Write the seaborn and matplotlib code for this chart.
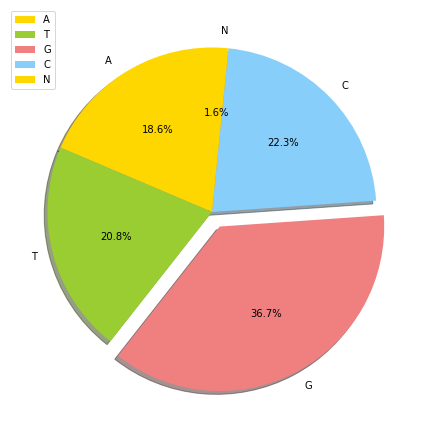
import matplotlib
matplotlib.use("Agg")
import matplotlib.pyplot as plt
import seaborn as sns

labels = ["A", "T", "G", "C", "N"]
values = [18.6, 20.8, 36.7, 22.3, 1.6]
colors = ["gold", "yellowgreen", "lightcoral", "lightskyblue", "gold"]
explode = [0, 0, 0.1, 0, 0]

sns.reset_orig()
plt.rcParams["font.family"] = ["DejaVu Sans"]

fig = plt.figure(figsize=(424 / 72, 424 / 72), dpi=72)
ax = fig.add_axes([0.015, 0.015, 0.97, 0.97])
ax.pie(values, labels=labels, colors=sns.color_palette(colors), explode=explode,
       autopct="%1.1f%%", shadow=True, startangle=90, textprops={"fontsize": 10})
ax.legend(loc="upper left", fontsize=10)
fig.savefig("out.png", dpi=72)
